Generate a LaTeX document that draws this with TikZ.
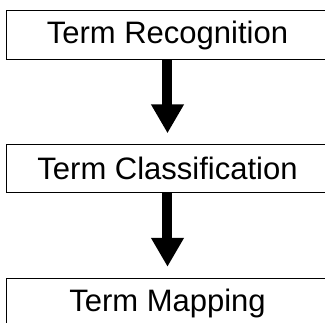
\documentclass[tikz,border=0pt]{standalone}
\usepackage{fontspec}
\setmainfont{Liberation Sans}
\usetikzlibrary{arrows.meta}

\begin{document}
\begin{tikzpicture}[x=1pt,y=-1pt,
  stagebox/.style={rectangle, minimum width=321pt, minimum height=48pt,
    inner sep=0pt, font=\fontsize{31}{37}\selectfont},
  frame/.style={draw=black, line width=1pt},
  flow/.style={line width=10pt, -{Triangle[length=29pt,width=31pt]}}]
  \useasboundingbox (0,0) rectangle (325,323);
  \clip (0,0) rectangle (325,323);

  % processing stages, top to bottom
  \node[stagebox] (rec) at (167.5,35)  {Term Recognition};
  \node[stagebox] (cls) at (167.5,168.5) {Term Classification};
  \node[stagebox] (map) at (167.5,303) {Term Mapping};

  % stage frames run past the right edge of the page
  \foreach \s in {rec,cls,map}
    \draw[frame] (\s.north west) rectangle ([xshift=30pt]\s.south east);

  % flow between stages
  \draw[flow, shorten >=11pt] (rec) -- (cls);
  \draw[flow, shorten >=12pt] (cls) -- (map);
\end{tikzpicture}
\end{document}
